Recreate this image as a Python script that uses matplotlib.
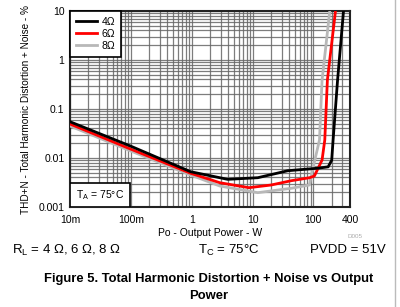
import matplotlib
matplotlib.use("Agg")
import matplotlib.pyplot as plt
import numpy as np
from matplotlib.ticker import FixedLocator, NullFormatter
from matplotlib.patches import Rectangle

plt.rcParams['font.family'] = ['Liberation Sans', 'DejaVu Sans']

# Data (Po in W, THD+N in %)
p_4ohm = [0.01, 0.098, 0.96, 3.9, 12.2, 38, 120, 175, 200, 211, 250, 313]
thd_4ohm = [0.055, 0.0176, 0.00525, 0.00367, 0.00396, 0.0055, 0.0062, 0.0066, 0.009, 0.0233, 0.39, 10]

p_6ohm = [0.01, 0.098, 0.96, 2.9, 8.75, 20.2, 43.3, 86.9, 104, 139, 154, 170, 231]
thd_6ohm = [0.0494, 0.0153, 0.00488, 0.00313, 0.00248, 0.00281, 0.00344, 0.00396, 0.0043, 0.0091, 0.0233, 0.39, 10]

p_8ohm = [0.01, 0.098, 0.96, 2.9, 12.2, 43.3, 86, 92.7, 126, 139, 186]
thd_8ohm = [0.045, 0.014, 0.0045, 0.00268, 0.00196, 0.00241, 0.00281, 0.0045, 0.0233, 0.39, 10]

x_ticks = [0.01, 0.1, 1, 10, 100, 400]
x_ticklabels = ['10m', '100m', '1', '10', '100', '400']
y_ticks = [0.001, 0.01, 0.1, 1, 10]
y_ticklabels = ['0.001', '0.01', '0.1', '1', '10']

fig = plt.figure(figsize=(4.0, 3.07), dpi=100)
ax = fig.add_axes([70/400, 1-207/307, 280/400, 196/307])

ax.plot(p_4ohm, thd_4ohm, color='black', lw=2, label='4Ω', zorder=5)
ax.plot(p_6ohm, thd_6ohm, color='#ff0000', lw=2, label='6Ω', zorder=4)
ax.plot(p_8ohm, thd_8ohm, color='#b8b8b8', lw=2, label='8Ω', zorder=3)

ax.set_xscale('log')
ax.set_yscale('log')
ax.set_xlim(0.01, 400)
ax.set_ylim(0.001, 10)

xminor = [m * 10.0**e for e in range(-2, 3) for m in range(2, 10) if m * 10.0**e < 400]
yminor = [m * 10.0**e for e in range(-3, 1) for m in range(2, 10)]
ax.xaxis.set_major_locator(FixedLocator(x_ticks))
ax.set_xticklabels(x_ticklabels)
ax.xaxis.set_minor_locator(FixedLocator(xminor))
ax.xaxis.set_minor_formatter(NullFormatter())
ax.yaxis.set_major_locator(FixedLocator(y_ticks))
ax.set_yticklabels(y_ticklabels)
ax.yaxis.set_minor_locator(FixedLocator(yminor))
ax.yaxis.set_minor_formatter(NullFormatter())

ax.grid(True, which='both', color='#666666', lw=0.9, alpha=0.85)
ax.tick_params(which='both', length=0, labelsize=7.5)
ax.tick_params(axis='x', pad=6)
ax.tick_params(axis='y', pad=4)
for s in ax.spines.values():
    s.set_linewidth(1.5)
    s.set_color('#222222')

leg = ax.legend(loc='upper left', fontsize=7.5, frameon=True, fancybox=False,
                edgecolor='black', framealpha=1, borderaxespad=0,
                handlelength=2.0, handletextpad=0.5, borderpad=0.55, labelspacing=0.2)
leg.get_frame().set_linewidth(1.2)
leg.set_zorder(7)

ax.add_patch(Rectangle((0, 0), 60/280, 24/196, transform=ax.transAxes,
                       fc='white', ec='black', lw=1.2, zorder=6))
ax.text(30/280, 12/196, r'T$_\mathregular{A}$ = 75°C', fontsize=7.5, va='center', ha='center',
        transform=ax.transAxes, zorder=7)

ax.set_ylabel('THD+N - Total Harmonic Distortion + Noise - %', fontsize=7.2, labelpad=5)
ax.set_xlabel('Po - Output Power - W', fontsize=7.5, labelpad=2)

fig.text(355/400, 1-237/307, 'D005', fontsize=4.5, color='#aaaaaa', ha='center', va='center')
fig.text(12/400, 1-250/307, r'R$_\mathregular{L}$ = 4 Ω, 6 Ω, 8 Ω', fontsize=9.5, ha='left', va='center')
fig.text(229/400, 1-250/307, r'T$_\mathregular{C}$ = 75°C', fontsize=9.5, ha='center', va='center')
fig.text(386/400, 1-250/307, 'PVDD = 51V', fontsize=9.5, ha='right', va='center')
fig.text(209/400, 1-279/307, 'Figure 5. Total Harmonic Distortion + Noise vs Output',
         fontsize=9.4, fontweight='bold', ha='center', va='center')
fig.text(209/400, 1-296/307, 'Power', fontsize=9.4, fontweight='bold', ha='center', va='center')

fig.add_artist(plt.Line2D([395/400, 395/400], [0, 1], color='#bbbbbb', lw=1, transform=fig.transFigure))

fig.savefig('out.png', dpi=100)
